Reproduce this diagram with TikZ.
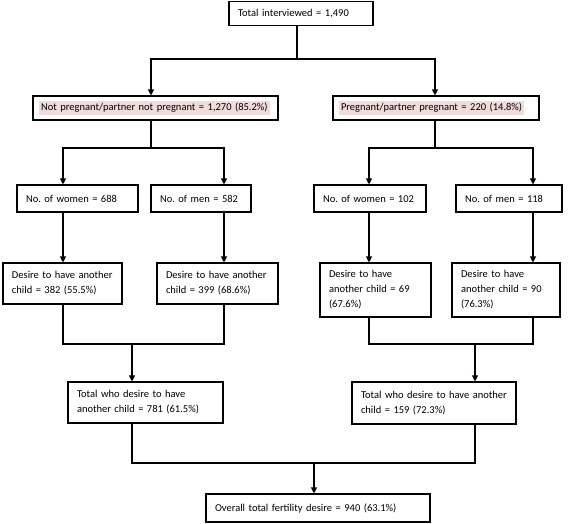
\documentclass[tikz,border=0pt]{standalone}
\usepackage{fontspec}
\setmainfont{Carlito}
\usepackage{xcolor}
\usepackage{tikz}
\usetikzlibrary{arrows.meta}
\definecolor{hlpink}{RGB}{242,220,219}
\setlength{\fboxsep}{2pt}
\frenchspacing

\begin{document}
\begin{tikzpicture}[x=1pt, y=1pt, node distance=90pt, line width=1.1pt,
    >={Triangle[length=6pt,width=6pt]},
    every node/.style={font=\fontsize{10.5}{15}\selectfont},
    cbox/.style={draw, rectangle, fill=white, align=left, text width=#1, inner xsep=9pt, inner ysep=2pt}]
    \useasboundingbox (0,0) rectangle (568,-523);

    % Total
    \node[cbox=126pt, minimum height=24pt] (top) at (301,-13.5) {Total interviewed = 1,490};

    % Pregnancy status
    \node[cbox=233pt, inner xsep=6pt, minimum height=24pt, below of=top, xshift=-145.5pt, yshift=-4.5pt] (np) {\colorbox{hlpink}{Not pregnant/partner not pregnant = 1,270 (85.2\%)}};
    \node[cbox=194pt, inner xsep=6pt, minimum height=24pt, below of=top, xshift=135pt, yshift=-4.5pt] (pg) {\colorbox{hlpink}{Pregnant/partner pregnant = 220 (14.8\%)}};

    % Women and men
    \node[cbox=103pt, minimum height=27pt, below of=np, xshift=-78pt, yshift=-0.5pt] (wL) {No. of women = 688};
    \node[cbox=82pt, minimum height=27pt, below of=np, xshift=45.5pt, yshift=-0.5pt] (mL) {No. of men = 582};
    \node[cbox=94pt, minimum height=27pt, below of=pg, xshift=-66pt, yshift=-0.5pt] (wR) {No. of women = 102};
    \node[cbox=88pt, minimum height=27pt, below of=pg, xshift=73pt, yshift=-0.5pt] (mR) {No. of men = 118};

    % Desire
    \node[cbox=101pt, minimum height=41pt, below of=wL, xshift=-15pt, yshift=5pt] (dL1) {Desire to have another\\child = 382 (55.5\%)};
    \node[cbox=103pt, minimum height=41pt, below of=mL, xshift=16.5pt, yshift=5pt] (dL2) {Desire to have another\\child = 399 (68.6\%)};
    \node[cbox=93pt, minimum height=54pt, below of=wR, xshift=5.5pt, yshift=-1.5pt] (dR1) {Desire to have\\another child = 69\\(67.6\%)};
    \node[cbox=90pt, minimum height=54pt, below of=mR, xshift=-3pt, yshift=-1.5pt] (dR2) {Desire to have\\another child = 90\\(76.3\%)};

    % Totals
    \node[cbox=137pt, minimum height=41pt, below of=dL1, xshift=83pt, yshift=-29pt] (tL) {Total who desire to have\\another child = 781 (61.5\%)};
    \node[cbox=146pt, minimum height=42pt, below of=dR1, xshift=58.5pt, yshift=-23pt] (tR) {Total who desire to have another\\child = 159 (72.3\%)};

    % Overall
    \node[cbox=206pt, minimum height=28pt, below of=tL, xshift=172.5pt, yshift=-15.5pt] (fin) {Overall total fertility desire = 940 (63.1\%)};

    % Columns and junctions
    \coordinate (colA) at (63,0);
    \coordinate (colB) at (224,0);
    \coordinate (colC) at (369,0);
    \coordinate (colD) at (533,0);
    \coordinate (j1) at (297,-59);
    \coordinate (j2) at (151,-148);
    \coordinate (j3) at (435,-148);
    \coordinate (j4) at (132,-344);
    \coordinate (j5) at (475,-344);
    \coordinate (j6) at (314,-463);

    % Splits
    \draw (top.south -| j1) -- (j1);
    \draw[->] (j1) -| (np.north -| j2);
    \draw[->] (j1) -| (pg.north -| j3);
    \draw (np.south -| j2) -- (j2);
    \draw[->] (j2) -| (wL.north -| colA);
    \draw[->] (j2) -| (mL.north -| colB);
    \draw (pg.south -| j3) -- (j3);
    \draw[->] (j3) -| (wR.north -| colC);
    \draw[->] (j3) -| (mR.north -| colD);

    % Down to desire
    \draw[->] (wL.south -| colA) -- (dL1.north -| colA);
    \draw[->] (mL.south -| colB) -- (dL2.north -| colB);
    \draw[->] (wR.south -| colC) -- (dR1.north -| colC);
    \draw[->] (mR.south -| colD) -- (dR2.north -| colD);

    % Merges
    \draw (dL1.south -| colA) |- (j4) -| (dL2.south -| colB);
    \draw[->] (j4) -- (tL.north -| j4);
    \draw (dR1.south -| colC) |- (j5) -| (dR2.south -| colD);
    \draw[->] (j5) -- (tR.north -| j5);
    \draw (tL.south -| j4) |- (j6) -| (tR.south -| j5);
    \draw[->] (j6) -- (fin.north -| j6);
\end{tikzpicture}
\end{document}
